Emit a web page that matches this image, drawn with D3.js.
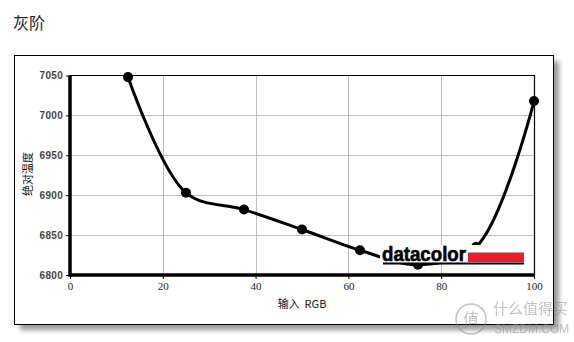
<!DOCTYPE html>
<html>
<head>
<meta charset="utf-8">
<script src="https://cdn.jsdelivr.net/npm/d3@7"></script>
<style>
  body { margin: 0; background: #fff; }
  svg { display: block; }
</style>
</head>
<body>
<div id="chartDiv"></div>
<script>

// data
var inputRGB = [12.5, 25, 37.5, 50, 62.5, 75, 87.5, 100];
var tempK    = [7048, 6903, 6882, 6857, 6831, 6813, 6835, 7018];
var xTicks   = [0, 20, 40, 60, 80, 100];
var yTicks   = [6800, 6850, 6900, 6950, 7000, 7050];

var svg = d3.select("#chartDiv").append("svg")
    .attr("width", 574)
    .attr("height", 342);

var defs = svg.append("defs");
var blur = defs.append("filter").attr("id", "shadow")
    .attr("x", "-5%").attr("y", "-5%").attr("width", "115%").attr("height", "120%");
blur.append("feGaussianBlur").attr("stdDeviation", 2.5);

// title
svg.append("text")
    .attr("x", 13).attr("y", 29)
    .attr("font-family", "Noto Sans CJK SC")
    .attr("font-size", 16)
    .attr("fill", "#222")
    .text("灰阶");

// frame with drop shadow
svg.append("rect")
    .attr("x", 20).attr("y", 61)
    .attr("width", 539).attr("height", 269)
    .attr("fill", "#999")
    .attr("filter", "url(#shadow)");
svg.append("rect")
    .attr("x", 14.5).attr("y", 55.5)
    .attr("width", 539).attr("height", 269)
    .attr("fill", "#fff")
    .attr("stroke", "#000");

var margin = {left: 70, top: 75.5, right: 534, bottom: 275};

var x_scale = d3.scaleLinear().domain([0, 100]).range([margin.left, margin.right]);
var y_scale = d3.scaleLinear().domain([6800, 7050]).range([margin.bottom, margin.top]);

var chart = svg.append("g");

// gridlines
chart.selectAll(".vgrid").data(xTicks.slice(1, -1)).enter().append("line")
    .attr("x1", function(d){ return Math.round(x_scale(d)) + 0.5; })
    .attr("x2", function(d){ return Math.round(x_scale(d)) + 0.5; })
    .attr("y1", margin.top).attr("y2", margin.bottom)
    .attr("stroke", "#bdbdbd");
chart.selectAll(".hgrid").data(yTicks.slice(1, -1)).enter().append("line")
    .attr("x1", margin.left).attr("x2", margin.right)
    .attr("y1", function(d){ return Math.round(y_scale(d)) + 0.5; })
    .attr("y2", function(d){ return Math.round(y_scale(d)) + 0.5; })
    .attr("stroke", "#bdbdbd");

// top / right border
chart.append("path")
    .attr("d", "M" + margin.left + "," + margin.top + "H" + (margin.right + 0.5) + "V" + margin.bottom)
    .attr("fill", "none").attr("stroke", "#000").attr("stroke-width", 1.2);

// axes
var xAxis = d3.axisBottom(x_scale).tickValues(xTicks).tickSize(4).tickPadding(3);
var yAxis = d3.axisLeft(y_scale).tickValues(yTicks).tickSize(4).tickPadding(3)
    .tickFormat(d3.format("d"));

var xGroup = chart.append("g").attr("transform", "translate(0," + margin.bottom + ")").call(xAxis);
var yGroup = chart.append("g").attr("transform", "translate(" + margin.left + ",0)").call(yAxis);

xGroup.select(".domain").remove();
yGroup.select(".domain").remove();
xGroup.selectAll("text")
    .attr("font-family", "Liberation Serif").attr("font-size", 11).attr("fill", "#222");
yGroup.selectAll("text")
    .attr("font-family", "Liberation Sans").attr("font-size", 10).attr("font-weight", "bold")
    .attr("letter-spacing", 0.3).attr("fill", "#444");
chart.selectAll(".tick line").attr("stroke", "#000");

chart.append("path")
    .attr("d", "M" + margin.left + "," + margin.top + "V" + margin.bottom + "H" + (margin.right + 1))
    .attr("fill", "none").attr("stroke", "#000").attr("stroke-width", 3.5);

// axis titles
svg.append("text")
    .attr("transform", "translate(32,174) rotate(-90)")
    .attr("text-anchor", "middle")
    .attr("font-family", "Noto Sans CJK SC").attr("font-size", 11)
    .attr("fill", "#111")
    .text("绝对温度");
svg.append("text")
    .attr("x", 302).attr("y", 308)
    .attr("text-anchor", "middle")
    .attr("font-family", "Noto Sans CJK SC").attr("font-size", 11)
    .attr("fill", "#111")
    .attr("xml:space", "preserve")
    .text("输入  RGB");

// curve
var pts = inputRGB.map(function(d, i){ return [d, tempK[i]]; });
var line = d3.line()
    .x(function(d){ return x_scale(d[0]); })
    .y(function(d){ return y_scale(d[1]); })
    .curve(d3.curveCatmullRom.alpha(0.5));

chart.append("path")
    .datum(pts)
    .attr("d", line)
    .attr("fill", "none")
    .attr("stroke", "#000")
    .attr("stroke-width", 3);

chart.selectAll(".dot").data(pts).enter().append("circle")
    .attr("cx", function(d){ return x_scale(d[0]); })
    .attr("cy", function(d){ return y_scale(d[1]); })
    .attr("r", 5)
    .attr("fill", "#000");

// datacolor logo
var logo = svg.append("g");
logo.append("rect")
    .attr("x", 380).attr("y", 245).attr("width", 146).attr("height", 18)
    .attr("fill", "#fff");
logo.append("text")
    .attr("x", 382).attr("y", 261)
    .attr("font-family", "Liberation Sans").attr("font-weight", "bold")
    .attr("font-size", 20)
    .attr("textLength", 84).attr("lengthAdjust", "spacingAndGlyphs")
    .attr("fill", "#000")
    .attr("stroke", "#000").attr("stroke-width", 0.6)
    .text("datacolor");
logo.append("rect")
    .attr("x", 468).attr("y", 252.5).attr("width", 56).attr("height", 9.5)
    .attr("fill", "#e5202e");
logo.append("rect")
    .attr("x", 383).attr("y", 262.5).attr("width", 141).attr("height", 2)
    .attr("fill", "#000");

// watermark
var wm = svg.append("g").attr("opacity", 0.5);
wm.append("circle").attr("cx", 471).attr("cy", 319).attr("r", 15)
    .attr("fill", "none").attr("stroke", "#888").attr("stroke-width", 1.5);
wm.append("text").attr("x", 471).attr("y", 325).attr("text-anchor", "middle")
    .attr("font-family", "Noto Sans CJK SC").attr("font-size", 16).attr("fill", "#888")
    .text("值");
wm.append("text").attr("x", 493).attr("y", 314)
    .attr("font-family", "Noto Sans CJK SC").attr("font-size", 15).attr("fill", "#888")
    .text("什么值得买");
wm.append("text").attr("x", 494).attr("y", 333)
    .attr("font-family", "Liberation Sans").attr("font-size", 12).attr("fill", "#888")
    .text("SMZDM.COM");

</script>
</body>
</html>
